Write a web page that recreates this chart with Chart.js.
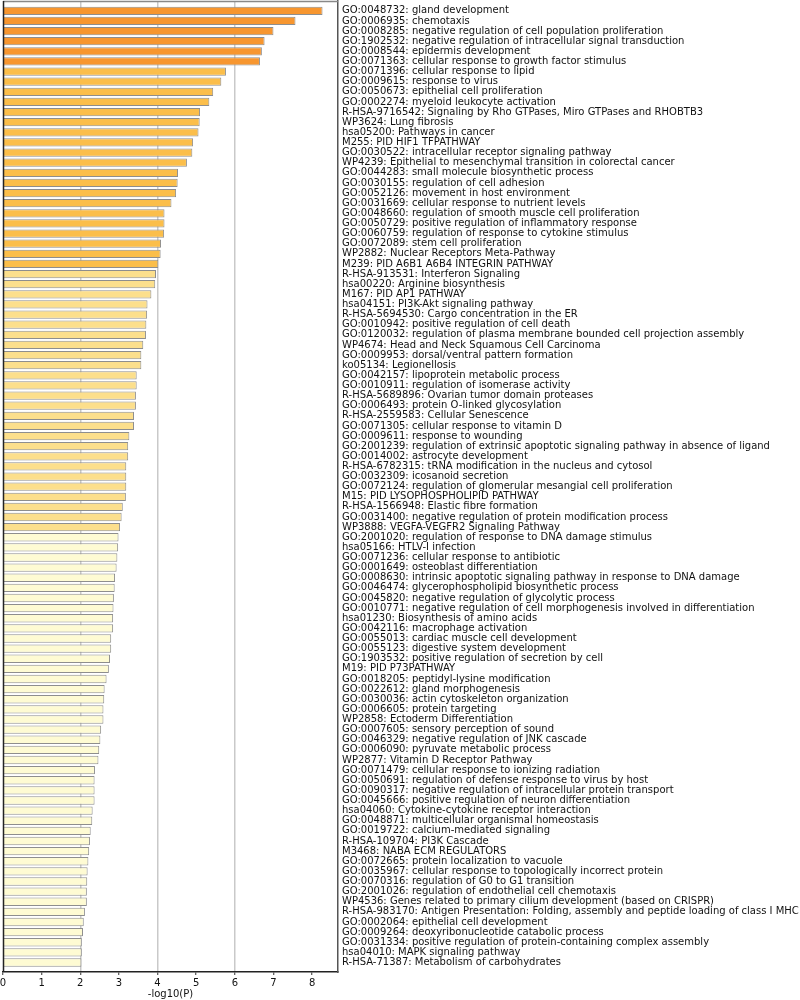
<!DOCTYPE html>
<html><head><meta charset="utf-8">
<script src="https://cdn.jsdelivr.net/npm/chart.js@4"></script>
<style>html,body{margin:0;padding:0;background:#fff}#wrap{width:800px;height:1000px}</style>
</head><body><div id="wrap"><canvas id="c" width="800" height="1000"></canvas></div>
<script>
const terms = [
"GO:0048732: gland development",
"GO:0006935: chemotaxis",
"GO:0008285: negative regulation of cell population proliferation",
"GO:1902532: negative regulation of intracellular signal transduction",
"GO:0008544: epidermis development",
"GO:0071363: cellular response to growth factor stimulus",
"GO:0071396: cellular response to lipid",
"GO:0009615: response to virus",
"GO:0050673: epithelial cell proliferation",
"GO:0002274: myeloid leukocyte activation",
"R-HSA-9716542: Signaling by Rho GTPases, Miro GTPases and RHOBTB3",
"WP3624: Lung fibrosis",
"hsa05200: Pathways in cancer",
"M255: PID HIF1 TFPATHWAY",
"GO:0030522: intracellular receptor signaling pathway",
"WP4239: Epithelial to mesenchymal transition in colorectal cancer",
"GO:0044283: small molecule biosynthetic process",
"GO:0030155: regulation of cell adhesion",
"GO:0052126: movement in host environment",
"GO:0031669: cellular response to nutrient levels",
"GO:0048660: regulation of smooth muscle cell proliferation",
"GO:0050729: positive regulation of inflammatory response",
"GO:0060759: regulation of response to cytokine stimulus",
"GO:0072089: stem cell proliferation",
"WP2882: Nuclear Receptors Meta-Pathway",
"M239: PID A6B1 A6B4 INTEGRIN PATHWAY",
"R-HSA-913531: Interferon Signaling",
"hsa00220: Arginine biosynthesis",
"M167: PID AP1 PATHWAY",
"hsa04151: PI3K-Akt signaling pathway",
"R-HSA-5694530: Cargo concentration in the ER",
"GO:0010942: positive regulation of cell death",
"GO:0120032: regulation of plasma membrane bounded cell projection assembly",
"WP4674: Head and Neck Squamous Cell Carcinoma",
"GO:0009953: dorsal/ventral pattern formation",
"ko05134: Legionellosis",
"GO:0042157: lipoprotein metabolic process",
"GO:0010911: regulation of isomerase activity",
"R-HSA-5689896: Ovarian tumor domain proteases",
"GO:0006493: protein O-linked glycosylation",
"R-HSA-2559583: Cellular Senescence",
"GO:0071305: cellular response to vitamin D",
"GO:0009611: response to wounding",
"GO:2001239: regulation of extrinsic apoptotic signaling pathway in absence of ligand",
"GO:0014002: astrocyte development",
"R-HSA-6782315: tRNA modification in the nucleus and cytosol",
"GO:0032309: icosanoid secretion",
"GO:0072124: regulation of glomerular mesangial cell proliferation",
"M15: PID LYSOPHOSPHOLIPID PATHWAY",
"R-HSA-1566948: Elastic fibre formation",
"GO:0031400: negative regulation of protein modification process",
"WP3888: VEGFA-VEGFR2 Signaling Pathway",
"GO:2001020: regulation of response to DNA damage stimulus",
"hsa05166: HTLV-I infection",
"GO:0071236: cellular response to antibiotic",
"GO:0001649: osteoblast differentiation",
"GO:0008630: intrinsic apoptotic signaling pathway in response to DNA damage",
"GO:0046474: glycerophospholipid biosynthetic process",
"GO:0045820: negative regulation of glycolytic process",
"GO:0010771: negative regulation of cell morphogenesis involved in differentiation",
"hsa01230: Biosynthesis of amino acids",
"GO:0042116: macrophage activation",
"GO:0055013: cardiac muscle cell development",
"GO:0055123: digestive system development",
"GO:1903532: positive regulation of secretion by cell",
"M19: PID P73PATHWAY",
"GO:0018205: peptidyl-lysine modification",
"GO:0022612: gland morphogenesis",
"GO:0030036: actin cytoskeleton organization",
"GO:0006605: protein targeting",
"WP2858: Ectoderm Differentiation",
"GO:0007605: sensory perception of sound",
"GO:0046329: negative regulation of JNK cascade",
"GO:0006090: pyruvate metabolic process",
"WP2877: Vitamin D Receptor Pathway",
"GO:0071479: cellular response to ionizing radiation",
"GO:0050691: regulation of defense response to virus by host",
"GO:0090317: negative regulation of intracellular protein transport",
"GO:0045666: positive regulation of neuron differentiation",
"hsa04060: Cytokine-cytokine receptor interaction",
"GO:0048871: multicellular organismal homeostasis",
"GO:0019722: calcium-mediated signaling",
"R-HSA-109704: PI3K Cascade",
"M3468: NABA ECM REGULATORS",
"GO:0072665: protein localization to vacuole",
"GO:0035967: cellular response to topologically incorrect protein",
"GO:0070316: regulation of G0 to G1 transition",
"GO:2001026: regulation of endothelial cell chemotaxis",
"WP4536: Genes related to primary cilium development (based on CRISPR)",
"R-HSA-983170: Antigen Presentation: Folding, assembly and peptide loading of class I MHC",
"GO:0002064: epithelial cell development",
"GO:0009264: deoxyribonucleotide catabolic process",
"GO:0031334: positive regulation of protein-containing complex assembly",
"hsa04010: MAPK signaling pathway",
"R-HSA-71387: Metabolism of carbohydrates"
];
const logP = [
8.27, 7.57, 7.00, 6.77, 6.70, 6.65, 5.77, 5.65, 5.44, 5.34,
5.10, 5.09, 5.06, 4.92, 4.90, 4.76, 4.53, 4.52, 4.48, 4.36,
4.18, 4.18, 4.17, 4.09, 4.08, 4.02, 3.96, 3.94, 3.84, 3.74,
3.73, 3.71, 3.70, 3.63, 3.58, 3.58, 3.46, 3.46, 3.44, 3.44,
3.39, 3.39, 3.27, 3.24, 3.24, 3.19, 3.19, 3.19, 3.18, 3.10,
3.07, 3.03, 2.99, 2.98, 2.96, 2.94, 2.90, 2.89, 2.87, 2.86,
2.85, 2.85, 2.80, 2.80, 2.77, 2.74, 2.68, 2.63, 2.62, 2.60,
2.60, 2.54, 2.52, 2.49, 2.47, 2.38, 2.37, 2.37, 2.37, 2.32,
2.31, 2.27, 2.25, 2.23, 2.21, 2.19, 2.18, 2.17, 2.17, 2.12,
2.09, 2.07, 2.04, 2.04, 2.03
];
const xTickValues = [0, 1, 2, 3, 4, 5, 6, 7, 8];
const gridValues = [2, 4, 6];
const binEdges = [6, 4, 3];
const binColors = ['#F7962F', '#FBBE4A', '#FCDF8C', '#FEFBD3'];
const xTitle = '-log10(P)';

function colorFor(v) {
  for (let i = 0; i < binEdges.length; i++) if (v > binEdges[i]) return binColors[i];
  return binColors[binColors.length - 1];
}

const framePlugin = {
  id: 'frame',
  afterDraw(chart) {
    const a = chart.chartArea, c = chart.ctx;
    c.save();
    c.strokeStyle = '#888';
    c.lineWidth = 1.5;
    c.beginPath(); c.moveTo(a.left, a.top + 0.5); c.lineTo(a.right, a.top + 0.5); c.stroke();
    c.strokeStyle = '#222';
    c.lineWidth = 1.5;
    c.beginPath(); c.moveTo(a.left + 0.5, a.top); c.lineTo(a.left + 0.5, a.bottom); c.stroke();
    c.restore();
  }
};

const FONT = 'DejaVu Sans';
new Chart(document.getElementById('c'), {
  type: 'bar',
  data: {
    datasets: [{
      data: terms.map((t, i) => ({ x: logP[i], y: i })),
      backgroundColor: (ctx) => colorFor(ctx.raw ? ctx.raw.x : 0),
      borderColor: '#8e8e8e',
      borderWidth: 1,
      barPercentage: 0.82,
      categoryPercentage: 1
    }]
  },
  options: {
    indexAxis: 'y',
    responsive: false,
    animation: false,
    layout: { padding: { top: 1, left: 3, right: 0, bottom: 0 } },
    plugins: { legend: { display: false }, tooltip: { enabled: false } },
    scales: {
      x: {
        type: 'linear', position: 'bottom', min: 0, max: 8.67, offset: false,
        afterBuildTicks: (s) => { s.ticks = xTickValues.map(v => ({ value: v })); },
        afterFit: (s) => { s.height = 28; s.paddingLeft = 0; s.paddingRight = 0; },
        ticks: { font: { family: FONT, size: 10, lineHeight: 1.0 }, color: '#111', padding: 3, maxRotation: 0 },
        grid: {
          offset: false,
          color: (ctx) => (ctx.tick && gridValues.includes(ctx.tick.value)) ? '#c9c9c9' : 'rgba(0,0,0,0)',
          lineWidth: 1.5, drawTicks: true, tickLength: 3, tickColor: '#333', tickWidth: 1
        },
        border: { display: true, color: '#222', width: 1.5 },
        title: { display: true, text: xTitle, font: { family: FONT, size: 10 }, color: '#111', padding: { top: 1, bottom: 0 } }
      },
      y: {
        type: 'linear', position: 'right', reverse: true, min: -0.97, max: 94.94, offset: false,
        afterBuildTicks: (s) => { s.ticks = terms.map((t, i) => ({ value: i })); },
        afterFit: (s) => { s.width = 462; s.paddingTop = 0; s.paddingBottom = 0; },
        ticks: { autoSkip: false, font: { family: FONT, size: 10 }, color: '#111', padding: 4,
          callback: (v) => terms[v] },
        grid: { display: false, drawTicks: false, offset: false },
        border: { display: true, color: '#555', width: 1.5 }
      }
    }
  },
  plugins: [framePlugin]
});
</script></body></html>
